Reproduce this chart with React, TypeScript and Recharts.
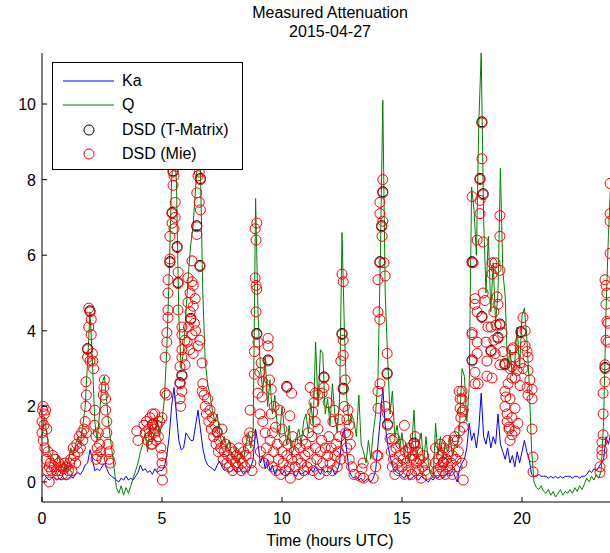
import { ComposedChart, Line, Scatter, XAxis, YAxis } from "recharts"

// Path-integrated attenuation (dB), one sample every 6 minutes from 00:00 UTC
const kaAtten = [
  0.15, 0.2, 0.1, 0.05, 0.1, 0.15, 0.05, 0.1, 0.05, 0.1,
  0.05, 0.1, 0.15, 0.1, 0.2, 0.25, 0.2, 0.3, 0.45, 0.5,
  0.85, 0.6, 0.3, 0.35, 0.3, 0.4, 0.5, 0.35, 0.2, 0.15,
  0.1, 0.05, 0.0, 0.1, 0.05, 0.15, 0.05, 0.1, 0.05, 0.15,
  0.25, 0.45, 0.3, 0.35, 0.25, 0.3, 0.2, 0.35, 0.25, 0.3,
  0.3, 0.4, 0.7, 1.2, 2.0, 2.5, 1.8, 1.1, 0.85, 0.9,
  1.3, 1.2, 1.1, 1.1, 1.5, 1.9, 1.4, 0.9, 0.6, 0.45,
  0.4, 0.35, 0.3, 0.45, 0.55, 0.4, 0.3, 0.35, 0.25, 0.3,
  0.35, 0.25, 0.4, 0.3, 0.2, 0.3, 0.25, 0.4, 0.6, 1.4,
  1.0, 0.5, 0.7, 0.35, 0.6, 0.3, 0.45, 0.2, 0.35, 0.3,
  0.2, 0.3, 0.15, 0.25, 0.35, 0.2, 0.15, 0.3, 0.2, 0.25,
  0.3, 0.2, 0.35, 0.25, 0.4, 0.3, 0.2, 0.35, 0.25, 0.3,
  0.25, 0.35, 0.2, 0.3, 0.5, 1.2, 1.4, 0.8, 0.3, 0.15,
  0.1, 0.15, 0.05, 0.1, 0.0, 0.05, 0.1, 0.0, 0.1, 0.3,
  1.0, 1.7, 2.5, 1.5, 1.0, 0.7, 0.4, 0.3, 0.25, 0.2,
  0.15, 0.1, 0.2, 0.05, 0.1, 0.15, 0.1, 0.05, 0.15, 0.1,
  0.05, 0.0, 0.1, 0.05, 0.15, 0.1, 0.2, 0.1, 0.15, 0.25,
  0.2, 0.3, 0.15, 0.0, 0.35, 0.5, 0.6, 0.9, 1.55, 1.1,
  1.3, 0.9, 1.4, 2.35, 1.2, 1.0, 1.35, 0.9, 1.2, 1.0,
  1.8, 1.0, 0.8, 0.6, 0.9, 0.5, 0.7, 0.4, 0.8, 0.5,
  0.8, 1.1, 0.8, 0.6, 0.2, 0.15, 0.15, 0.2, 0.15, 0.15,
  0.15, 0.1, 0.15, 0.1, 0.15, 0.1, 0.15, 0.1, 0.15, 0.15,
  0.15, 0.1, 0.15, 0.15, 0.1, 0.15, 0.15, 0.2, 0.3, 0.25,
  0.35, 0.3, 0.4, 0.5, 0.6, 1.2, 1.0, 1.3,
]

const qAtten = [
  1.2, 1.7, 1.3, 0.8, 0.7, 0.6, 0.5, 0.7, 0.4, 0.5,
  0.3, 0.6, 0.9, 0.7, 1.0, 1.2, 1.0, 1.5, 2.0, 3.2,
  4.5, 3.2, 1.6, 1.1, 1.8, 2.6, 2.8, 2.1, 1.4, 0.9,
  0.4, -0.15, -0.3, -0.1, -0.35, -0.15, -0.3, -0.1, 0.1, 0.3,
  0.5, 0.8, 1.0, 1.3, 0.8, 1.5, 1.1, 1.3, 1.7, 1.2,
  1.6, 2.2, 3.5, 5.5, 8.0, 8.8, 8.0, 4.4, 3.0, 3.5,
  4.5, 5.5, 6.3, 6.8, 7.8, 8.6, 8.3, 5.0, 3.2, 2.6,
  2.3, 1.9, 1.6, 1.8, 1.3, 1.0, 1.2, 0.9, 1.1, 0.7,
  0.6, 0.9, 0.5, 0.8, 0.6, 1.0, 1.3, 0.9, 1.4, 7.5,
  4.5, 3.0, 2.4, 3.3, 2.0, 2.7, 1.8, 2.3, 1.5, 1.2,
  2.0, 1.4, 1.0, 1.5, 0.7, 0.9, 1.2, 1.4, 1.0, 1.6,
  1.8, 1.3, 2.1, 1.5, 3.7, 2.0, 3.5, 3.4, 1.8, 2.2,
  1.5, 2.6, 1.8, 1.3, 2.2, 6.6, 4.0, 2.2, 1.5, 1.8,
  1.6, 1.2, 2.3, 1.0, 0.8, 0.5, 1.1, 0.6, 1.3, 1.8,
  2.8, 6.0, 10.1, 5.0, 3.3, 1.8, 2.4, 1.2, 1.5, 0.9,
  1.3, 0.7, 1.0, 0.5, 0.9, 1.9, 0.6, 1.0, 1.3, 0.5,
  1.2, 0.5, 0.2, 0.1, 1.55, 0.7, 1.2, 0.6, 1.0, 0.8,
  1.2, 0.7, 1.0, 0.9, 1.5, 3.0, 2.8, 1.6, 2.5, 7.8,
  7.2, 6.0, 9.5, 11.35, 7.0, 5.0, 6.5, 4.5, 5.8, 4.2,
  5.0, 8.3, 5.6, 4.9, 3.0, 3.5, 2.8, 3.2, 4.1, 3.0,
  4.4, 4.6, 3.8, 2.6, 0.85, 0.0, -0.15, -0.2, -0.1, -0.25,
  -0.3, -0.2, -0.35, -0.25, -0.4, -0.3, -0.2, -0.35, -0.25, -0.3,
  -0.2, -0.3, -0.15, -0.25, -0.1, -0.2, -0.05, 0.1, 0.0, 0.15,
  0.05, 0.2, 0.1, 0.3, 1.6, 4.5, 6.5, 8.0,
]

// DSD-derived attenuation, Mie scattering: [hour, dB]
const dsdMie: [number, number][] = [
  [0.0, 1.3], [0.0, 1.6], [0.02, 1.9], [0.05, 2.0], [0.1, 1.8], [0.08, 1.5], [0.05, 1.1], [0.15, 1.9],
  [0.12, 0.9], [0.2, 1.4], [0.18, 0.6], [0.25, 0.8], [0.3, 0.4], [0.35, 0.5], [0.4, 0.3], [0.45, 0.7],
  [0.5, 0.4], [0.55, 0.6], [0.6, 0.3], [0.7, 0.5], [0.75, 0.3], [0.8, 0.4], [0.85, 0.2], [0.9, 0.35],
  [0.3, 0.0], [0.22, 0.3], [0.65, 0.2], [0.95, 0.5],
  [1.0, 0.4], [1.05, 0.2], [1.1, 0.3], [1.15, 0.5], [1.2, 0.6], [1.25, 0.3], [1.3, 0.9], [1.35, 0.7],
  [1.4, 0.5], [1.45, 1.0], [1.5, 0.8], [1.55, 1.2], [1.6, 0.9], [1.65, 1.3], [1.7, 1.1], [1.75, 1.4],
  [1.8, 1.6], [1.85, 1.3], [1.83, 2.0], [1.85, 2.3], [1.83, 2.65], [1.9, 3.3], [1.9, 3.5], [1.95, 4.1],
  [1.95, 4.6], [2.0, 4.5], [2.05, 4.3], [2.05, 3.9], [2.0, 3.2], [2.1, 3.4], [2.15, 3.0], [2.12, 3.2],
  [2.2, 1.5], [2.25, 1.2], [2.3, 0.9], [2.35, 1.3], [2.3, 0.7], [2.4, 1.0], [2.45, 0.8], [2.5, 0.6],
  [2.6, 2.7], [2.58, 2.5], [2.65, 2.2], [2.55, 2.3], [2.65, 1.9], [2.7, 1.6], [2.7, 1.3], [2.75, 1.0],
  [2.8, 0.8], [2.8, 0.6], [2.85, 0.5], [2.2, 1.9], [2.25, 0.6],
  [3.95, 1.35], [4.0, 1.1], [4.25, 1.5], [4.3, 1.3], [4.35, 1.6], [4.4, 1.1], [4.45, 1.4], [4.5, 1.7],
  [4.5, 1.2], [4.55, 1.0], [4.6, 1.5], [4.6, 1.8], [4.65, 1.3], [4.7, 1.8], [4.75, 1.1], [4.8, 1.5],
  [4.85, 1.2], [4.9, 1.6], [4.95, 0.9], [5.0, 1.7], [5.0, 0.7], [5.0, 0.5], [5.0, 0.3], [5.02, 0.05],
  [5.2, 2.3], [4.6, 1.0], [4.7, 1.4],
  [5.46, 8.2], [5.5, 8.1], [5.46, 7.85], [5.42, 7.1], [5.42, 6.85], [5.33, 6.5], [5.63, 6.2], [5.33, 5.9],
  [5.33, 5.8], [5.67, 5.55], [5.25, 5.35], [5.67, 5.25], [5.25, 5.0], [5.67, 4.55], [5.25, 4.55], [5.25, 4.35],
  [5.2, 3.95], [5.2, 3.7], [5.83, 4.1], [5.83, 3.9], [5.96, 3.75], [5.83, 3.5], [5.83, 3.3], [5.96, 3.1],
  [5.75, 3.05], [5.83, 2.8], [5.75, 2.6], [5.83, 2.4], [5.13, 3.3], [5.13, 2.35], [5.55, 7.4], [5.55, 7.0],
  [5.5, 6.7], [5.75, 2.2], [5.78, 2.0],
  [6.55, 8.2], [6.6, 8.0], [6.45, 7.65], [6.6, 7.2], [6.45, 6.75], [6.45, 6.55], [6.25, 5.85], [6.58, 5.7],
  [6.08, 5.4], [6.25, 5.3], [6.3, 5.2], [6.17, 5.0], [6.38, 4.85], [6.08, 4.75], [6.3, 4.65], [6.17, 4.5],
  [6.58, 3.75], [6.67, 3.15], [6.7, 2.6], [6.67, 2.4], [6.2, 4.3], [6.35, 4.2], [6.1, 4.1], [6.25, 3.9],
  [6.4, 4.0], [6.05, 3.7], [6.5, 3.6], [6.15, 3.5], [6.3, 3.4], [6.5, 8.1], [6.55, 7.4],
  [6.75, 2.3], [6.8, 2.0], [6.85, 1.8], [6.9, 2.2], [6.95, 1.6], [7.0, 1.9], [7.05, 1.4], [7.1, 1.7],
  [7.15, 1.2], [7.2, 1.5], [7.25, 1.0], [7.3, 1.3], [7.35, 0.8], [7.4, 1.1], [7.45, 0.9], [7.5, 1.4],
  [7.55, 0.6], [7.6, 0.8], [7.65, 1.0], [7.7, 0.5], [7.75, 0.7], [7.8, 0.4], [7.85, 0.9], [7.9, 0.6],
  [7.95, 0.3], [8.0, 0.8], [8.05, 0.5], [8.1, 0.7], [8.15, 0.4], [8.2, 0.9], [8.25, 0.6], [8.3, 0.3],
  [8.35, 0.5], [8.4, 0.8], [8.45, 0.4], [8.5, 0.7], [8.55, 1.1], [8.6, 0.9], [8.65, 1.3], [8.7, 0.5],
  [8.75, 0.3],
  [8.95, 6.85], [8.88, 6.7], [8.92, 6.4], [8.88, 5.4], [8.92, 5.2], [8.95, 5.1], [8.92, 4.5], [8.95, 3.9],
  [9.0, 3.7], [8.85, 3.45], [8.85, 2.85], [9.0, 2.35], [8.67, 1.9], [8.7, 1.2],
  [9.42, 3.8], [9.42, 3.6], [9.42, 3.2], [9.13, 3.15], [9.08, 2.9], [9.2, 2.65], [9.48, 2.7], [9.55, 2.45],
  [10.2, 2.5], [10.4, 2.35], [9.17, 2.25], [9.08, 1.8], [9.2, 1.6], [9.67, 2.0], [9.9, 1.9], [9.3, 1.3],
  [9.73, 1.45], [10.0, 1.4], [10.33, 1.75], [9.1, 0.8], [9.25, 0.5], [9.35, 0.9], [9.45, 0.6], [9.5, 1.1],
  [9.6, 0.4], [9.65, 0.8], [9.75, 0.3], [9.8, 1.0], [9.85, 0.6], [9.95, 0.2], [10.0, 0.8], [10.05, 0.5],
  [10.1, 1.1], [10.15, 0.3], [10.2, 0.7], [10.25, 1.0], [10.3, 0.4], [10.35, 0.1], [10.4, 0.6], [10.45, 1.2],
  [9.55, 1.8], [9.6, 1.3],
  [11.17, 2.5], [11.38, 2.35], [11.33, 2.1], [11.28, 1.85], [11.5, 2.3], [11.67, 2.35], [11.38, 1.6], [11.1, 1.3],
  [10.5, 0.8], [10.55, 0.4], [10.6, 1.0], [10.65, 0.6], [10.7, 0.2], [10.75, 0.9], [10.8, 0.5], [10.85, 1.1],
  [10.9, 0.3], [10.95, 0.7], [11.0, 1.0], [11.05, 0.4], [11.1, 0.8], [11.2, 0.5], [11.25, 1.2], [11.3, 0.3],
  [11.4, 0.9], [11.45, 0.6], [11.5, 1.4], [11.55, 0.2], [11.6, 0.8], [11.65, 1.1], [11.7, 0.5], [11.75, 2.75],
  [11.75, 2.5], [11.8, 0.9], [11.85, 0.3], [11.9, 0.7], [11.95, 1.2],
  [12.17, 1.9], [12.12, 1.6], [11.92, 2.1], [12.0, 0.5], [12.05, 0.9], [12.1, 0.3], [12.2, 0.7], [12.25, 1.0],
  [12.3, 0.4], [12.35, 0.8], [12.4, 1.2], [12.45, 0.6], [12.5, 5.5], [12.55, 5.3], [12.5, 3.9], [12.55, 3.75],
  [12.55, 3.35], [12.45, 3.2], [12.63, 2.7], [12.55, 2.45], [12.75, 1.9], [12.7, 1.65], [12.8, 1.5], [12.75, 1.25],
  [12.85, 1.0], [12.4, 1.65], [12.6, 2.0], [12.65, 1.3], [12.7, 0.9], [12.8, 0.6], [12.9, 0.4],
  [13.38, 0.5], [13.33, 0.35], [13.25, 0.15], [13.4, 0.1], [13.9, 0.4], [13.95, 0.7], [13.0, 0.2], [13.8, 0.1],
  [14.2, 8.0], [14.2, 7.65], [14.08, 7.4], [14.08, 7.1], [14.2, 6.9], [14.15, 6.75], [14.17, 6.5], [14.08, 5.8],
  [14.25, 5.8], [14.0, 5.35], [14.3, 5.45], [14.0, 4.5], [14.08, 4.3], [14.38, 3.4], [14.38, 2.85], [14.08, 2.6],
  [14.0, 2.4], [14.0, 1.95], [14.3, 2.0], [14.4, 1.8], [14.4, 1.5], [14.5, 1.15], [14.6, 1.1], [14.7, 1.15],
  [14.0, 0.7],
  [14.55, 0.8], [14.6, 0.4], [14.65, 0.6], [14.7, 0.2], [14.75, 0.9], [14.8, 0.5], [14.85, 0.3], [14.9, 0.7],
  [14.95, 1.0], [15.0, 0.4], [15.05, 0.6], [15.1, 0.2], [15.15, 0.8], [15.2, 0.5], [15.25, 0.3], [15.3, 0.9],
  [15.35, 0.6], [15.4, 0.2], [15.45, 0.7], [15.5, 1.0], [15.55, 1.2], [15.55, 0.95], [15.5, 0.6], [15.55, 0.3],
  [15.6, 0.5], [15.65, 0.8], [15.7, 0.3], [15.75, 0.6], [15.8, 0.1], [15.85, 0.4], [15.9, 0.7], [15.95, 0.3],
  [16.0, 0.5], [16.05, 0.2], [15.1, 1.5],
  [16.4, 0.9], [16.38, 0.5], [16.45, 0.3], [16.5, 0.6], [16.55, 0.2], [16.6, 0.4], [16.65, 0.7], [16.7, 0.3],
  [16.72, 0.5], [16.75, 0.9], [16.8, 0.2], [16.85, 0.6], [16.9, 0.4], [16.95, 0.8], [17.0, 0.3], [17.05, 0.5],
  [17.1, 0.7], [17.15, 1.1], [17.1, 0.2], [17.2, 1.2], [17.25, 0.6], [17.3, 1.1], [17.3, 0.4], [17.35, 0.8],
  [17.4, 1.35], [17.38, 2.4], [17.42, 2.2], [17.42, 1.95], [17.45, 1.7], [17.5, 1.85], [17.55, 1.45], [17.55, 0.05],
  [17.5, 0.5], [16.6, 1.0], [16.9, 1.1],
  [18.33, 9.5], [18.33, 8.55], [18.25, 8.0], [18.38, 7.6], [17.92, 7.55], [18.25, 7.45], [18.25, 7.1], [19.08, 7.05],
  [19.08, 6.5], [18.13, 6.4], [18.38, 6.35], [17.92, 5.8], [17.96, 5.8], [18.75, 5.8], [18.88, 5.8], [18.75, 5.5],
  [19.08, 5.6], [18.92, 5.65], [18.38, 5.0], [18.04, 4.85], [18.04, 4.7], [18.13, 4.5], [18.46, 4.8], [18.96, 4.9],
  [19.0, 4.7], [18.83, 4.5], [18.33, 4.35], [18.58, 4.1], [18.71, 4.1], [18.92, 4.15], [19.08, 4.15], [19.17, 3.95],
  [17.92, 3.95], [17.92, 3.9], [18.13, 3.7], [18.5, 3.7], [18.83, 3.75], [19.0, 3.8], [18.71, 3.45], [18.54, 3.2],
  [17.92, 3.2], [18.13, 3.4], [18.88, 3.4], [19.21, 3.45], [18.04, 2.9], [18.54, 2.8], [18.75, 2.75], [19.08, 3.1],
  [19.29, 3.1], [19.5, 3.0], [19.63, 3.55], [19.71, 3.3], [19.58, 2.75], [19.29, 2.4], [19.33, 2.25], [19.29, 2.0],
  [19.38, 1.8], [19.38, 1.6], [19.46, 1.4], [19.58, 1.25], [18.04, 2.6], [18.17, 2.6], [17.5, 2.4], [17.5, 2.2],
  [17.55, 1.9],
  [20.04, 4.35], [20.13, 4.0], [19.96, 3.95], [19.92, 3.7], [20.13, 3.6], [19.58, 3.5], [20.21, 3.45], [20.25, 3.3],
  [19.92, 3.15], [19.29, 3.1], [19.58, 3.05], [19.79, 2.95], [20.04, 3.0], [20.25, 2.95], [19.71, 2.75], [20.33, 2.7],
  [19.42, 2.6], [19.92, 2.55], [20.21, 2.5], [20.42, 2.45], [20.25, 2.3], [20.42, 2.2], [19.5, 2.2], [19.71, 1.95],
  [19.58, 1.7], [19.83, 1.55], [19.46, 1.45], [19.71, 1.35], [19.5, 1.1], [20.42, 1.4], [20.46, 0.66], [20.46, 0.27],
  [23.46, 5.35], [23.5, 5.2], [23.54, 5.0], [23.5, 4.7], [23.54, 4.25], [23.58, 4.2], [23.5, 3.75], [23.58, 3.7],
  [23.46, 3.1], [23.46, 3.0], [23.46, 2.65], [23.38, 2.35], [23.38, 1.8], [23.38, 1.25], [23.33, 1.05], [23.33, 0.85],
  [23.33, 0.7], [23.25, 0.4], [23.25, 0.25], [23.67, 7.9], [23.67, 7.1], [23.67, 6.9], [23.67, 6.05],
]

// DSD-derived attenuation, T-Matrix scattering: [hour, dB]
// (nearly identical to Mie, so most of these sit under the red rings)
const dsdTMatrix: [number, number][] = [
  [5.46, 8.23], [5.63, 6.23], [5.33, 5.83], [5.67, 5.28], [5.83, 2.83], [5.75, 2.63], [8.95, 3.93], [14.2, 7.68],
  [14.15, 6.78], [14.38, 2.88], [14.4, 1.53], [18.33, 9.53], [18.38, 7.63], [17.92, 5.83], [17.92, 3.23], [18.33, 4.38],
  [18.71, 3.48], [19.0, 3.83], [19.96, 3.98], [19.29, 3.13], [6.6, 8.03], [6.45, 6.78], [6.2, 4.33], [6.58, 5.73],
  [11.75, 2.78], [12.55, 2.48], [9.42, 3.23], [12.5, 3.93], [4.6, 1.53], [2.0, 4.53], [7.3, 1.33], [16.72, 0.53],
  [15.5, 1.03], [23.46, 3.03], [10.2, 2.53], [1.9, 3.53], [18.25, 8.03], [5.42, 7.13], [14.08, 5.83], [19.08, 4.18],
]

const hourTicks = [0, 5, 10, 15, 20]
const dbTicks = [0, 2, 4, 6, 8, 10]

const kaData = kaAtten.map((v, i) => ({ t: i / 10, v }))
const qData = qAtten.map((v, i) => ({ t: i / 10, v }))
const mieData = dsdMie.map(([t, v]) => ({ t, v }))
const tMatrixData = dsdTMatrix.map(([t, v]) => ({ t, v }))

const font = "'Liberation Sans', Arial, sans-serif"

const BottomTick = ({ x, y, payload }: any) => (
  <g>
    <line x1={x} y1={y} x2={x} y2={y - 5} stroke="#000" />
    <text x={x} y={y + 22} textAnchor="middle" fontSize={16} fontFamily={font} fill="#000">
      {payload.value}
    </text>
  </g>
)

const TopTick = ({ x, y }: any) => <line x1={x} y1={y} x2={x} y2={y + 5} stroke="#000" />

const LeftTick = ({ x, y, payload }: any) => (
  <g>
    <line x1={x} y1={y} x2={x + 5} y2={y} stroke="#000" />
    <text x={x - 6} y={y + 6} textAnchor="end" fontSize={16} fontFamily={font} fill="#000">
      {payload.value}
    </text>
  </g>
)

const ring = (color: string) => (props: any) =>
  <circle cx={props.cx} cy={props.cy} r={5} fill="none" stroke={color} strokeWidth={1} />

const legendRows = [
  { label: "Ka", kind: "line", color: "#0000ff" },
  { label: "Q", kind: "line", color: "#008000" },
  { label: "DSD (T-Matrix)", kind: "ring", color: "#000000" },
  { label: "DSD (Mie)", kind: "ring", color: "#ff0000" },
]

export default function App() {
  return (
    <div
      style={{
        position: "absolute",
        left: 0,
        top: 0,
        width: 610,
        height: 553,
        overflow: "hidden",
        background: "#fff",
        fontFamily: font,
        color: "#000",
      }}
    >
      <div style={{ position: "absolute", left: 0, width: 660, top: 3, textAlign: "center", fontSize: 16, lineHeight: "19px" }}>
        Measured Attenuation
        <br />
        2015-04-27
      </div>

      <ComposedChart width={640} height={553} margin={{ top: 53, right: 22, bottom: 21, left: 0 }}>
        <XAxis
          dataKey="t"
          type="number"
          domain={[0, 24]}
          ticks={hourTicks}
          stroke="#000"
          height={30}
          tickSize={0}
          tickMargin={0}
          tick={BottomTick}
        />
        <XAxis
          xAxisId="top"
          orientation="top"
          dataKey="t"
          type="number"
          domain={[0, 24]}
          ticks={hourTicks}
          stroke="#000"
          height={0}
          tickSize={0}
          tickMargin={0}
          tick={TopTick}
        />
        <YAxis
          type="number"
          domain={[-0.53, 11.35]}
          ticks={dbTicks}
          stroke="#000"
          width={42}
          tickSize={0}
          tickMargin={0}
          tick={LeftTick}
        />
        <Line data={kaData} dataKey="v" type="linear" stroke="#0000ff" strokeWidth={1} dot={false} isAnimationActive={false} />
        <Line data={qData} dataKey="v" type="linear" stroke="#008000" strokeWidth={1} dot={false} isAnimationActive={false} />
        <Scatter data={tMatrixData} dataKey="v" shape={ring("#000000")} isAnimationActive={false} />
        <Scatter data={mieData} dataKey="v" shape={ring("#ff0000")} isAnimationActive={false} />
      </ComposedChart>

      <div
        style={{
          position: "absolute",
          left: 52,
          top: 62,
          width: 189,
          height: 106,
          background: "#fff",
          border: "1px solid #000",
        }}
      >
        {legendRows.map((row, i) => (
          <div key={row.label} style={{ position: "absolute", left: 0, top: 8 + i * 24.3, height: 20, width: 189 }}>
            <svg width={60} height={20} style={{ position: "absolute", left: 8, top: 0 }}>
              {row.kind === "line" ? (
                <line x1={2} y1={10} x2={53} y2={10} stroke={row.color} strokeWidth={1} />
              ) : (
                <circle cx={28} cy={10} r={5} fill="none" stroke={row.color} />
              )}
            </svg>
            <span style={{ position: "absolute", left: 69, top: 0, fontSize: 16, lineHeight: "20px" }}>{row.label}</span>
          </div>
        ))}
      </div>

      <div style={{ position: "absolute", left: 0, width: 660, top: 531, textAlign: "center", fontSize: 16, lineHeight: "19px" }}>
        Time (hours UTC)
      </div>
    </div>
  )
}
